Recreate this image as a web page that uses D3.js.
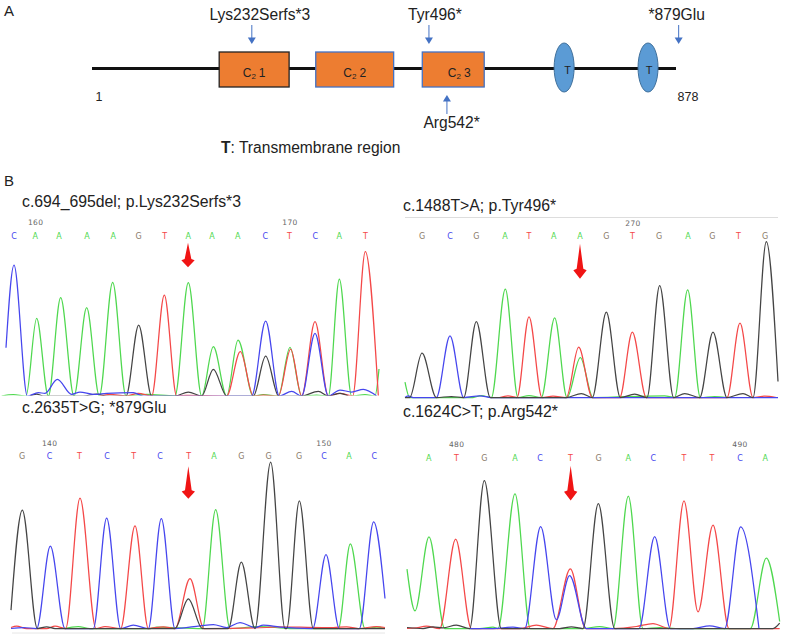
<!DOCTYPE html>
<meta charset="utf-8">
<style>
 body { margin: 0; background: #fff; }
 svg { display: block; }
 text { font-family: "Liberation Sans", Arial, sans-serif; fill: #222; }
 .base { font-family: "DejaVu Sans", sans-serif; font-size: 8px; text-anchor: middle; }
 .pos { font-family: "DejaVu Sans", sans-serif; font-size: 7.5px; text-anchor: middle; fill: #666; letter-spacing: .4px; }
 .trace { fill: none; stroke-width: 1.25px; stroke-linejoin: round; filter: blur(0.3px); }
</style>
<body>
<script src="https://d3js.org/d3.v7.min.js"></script>
<script>

// protein map (panel A), residue numbers
var residues = [1, 878];
var domainNames = ["1", "2", "3"];
var domainStart = [192, 337, 497];
var domainEnd = [297, 454, 590];
var tmSites = [710, 836];
var topMutations = ["Lys232Serfs*3", "Tyr496*", "*879Glu"];
var topMutationSites = [241, 507, 882];
var topLabelSites = [253, 516, 879];
var bottomMutations = ["Arg542*"];
var bottomMutationSites = [534];
var bottomLabelSites = [541];

// chromatograms (panel B): [scan, signal] for each dye
var lysA = [[5,0],[40,4],[78,0],[110,233],[145,0],[182,295],[222,0],[260,265],[298,0],[338,341],[378,0],[440,5],[525,0],[565,340],[605,0],[640,148],[680,0],[714,168],[760,0],[790,4],[835,0],[870,146],[905,0],[950,3],[985,0],[1018,351],[1055,0],[1095,4],[1125,0],[1137,81]];
var lysT = [[300,0],[330,5],[378,0],[415,8],[455,0],[493,303],[530,0],[560,2],[680,0],[721,133],[760,0],[790,3],[835,0],[872,141],[905,0],[945,223],[985,0],[1020,8],[1058,0],[1096,433],[1135,0]];
var lysG = [[90,0],[110,6],[130,0],[250,0],[290,6],[320,0],[378,0],[416,213],[455,0],[525,0],[565,12],[605,0],[640,80],[680,0],[760,0],[797,120],[836,0],[905,0],[955,14],[985,0],[1020,8],[1045,0]];
var lysC = [[18,145],[42,393],[82,0],[115,10],[135,8],[172,50],[215,5],[240,12],[280,5],[320,8],[400,10],[430,0],[640,0],[680,0],[755,0],[797,225],[838,0],[875,14],[905,0],[945,188],[985,0],[1020,18],[1055,12],[1090,20],[1130,0]];
var lysBases = ["C","A","A","A","A","G","T","A","A","A","C","T","C","A","T"];
var lysBaseScans = [42,106,177,261,340,416,494,565,636,713,796,868,946,1018,1096];

var tyrG = [[36,0],[50,0],[87,133],[130,0],[175,3],[212,0],[250,228],[292,0],[520,0],[565,12],[598,0],[640,256],[682,0],[725,10],[762,0],[800,336],[842,0],[875,12],[920,0],[960,196],[1002,0],[1050,12],[1080,0],[1120,468],[1155,48]];
var tyrC = [[36,0],[45,5],[60,0],[130,0],[171,185],[212,0],[260,5],[295,0],[1155,0]];
var tyrA = [[36,46],[50,0],[240,0],[265,6],[295,0],[337,325],[375,0],[408,6],[445,0],[485,239],[522,0],[562,120],[600,0],[815,5],[845,0],[884,323],[922,0],[965,3],[1000,0]];
var tyrT = [[320,0],[345,5],[372,0],[408,242],[447,0],[480,4],[520,0],[557,151],[598,0],[680,0],[718,196],[760,0],[1002,0],[1041,223],[1080,0],[1115,4],[1150,0]];
var tyrBases = ["G","C","G","A","T","A","A","G","T","G","A","G","T","G"];
var tyrBaseScans = [87,171,250,336,408,482,561,640,718,798,885,958,1036,1116];

var stopG = [[33,55],[67,355],[112,0],[140,5],[165,0],[525,0],[565,89],[607,0],[685,0],[724,199],[765,0],[812,499],[855,0],[860,0],[898,383],[940,0],[1155,0]];
var stopC = [[33,0],[70,3],[110,0],[151,247],[195,0],[240,0],[280,0],[320,331],[362,0],[400,10],[445,0],[484,330],[525,0],[600,8],[640,12],[680,3],[720,18],[765,3],[790,10],[840,4],[938,0],[978,222],[1018,0],[1078,0],[1121,320],[1155,90]];
var stopT = [[33,3],[50,7],[80,0],[140,0],[165,7],[197,0],[240,391],[288,0],[315,6],[362,0],[405,308],[445,0],[490,5],[525,0],[570,150],[612,0],[800,3],[830,5],[900,4],[1000,3],[1040,5],[1075,0],[1130,6],[1155,3]];
var stopA = [[190,0],[235,6],[270,0],[450,0],[470,4],[607,0],[647,357],[690,0],[780,6],[870,0],[960,0],[1015,0],[1051,254],[1095,0],[1130,4],[1155,0]];
var stopBases = ["G","C","T","C","T","C","T","A","G","G","G","C","A","C"];
var stopBaseScans = [66,149,238,321,401,480,566,642,724,806,897,972,1047,1123];

var argA = [[42,178],[66,53],[108,275],[155,0],[260,0],[300,4],[315,0],[366,404],[412,0],[570,0],[620,6],[660,0],[706,397],[750,0],[800,3],[860,0],[1072,0],[1120,211],[1160,21]];
var argT = [[42,0],[70,2],[100,7],[140,0],[188,268],[235,0],[380,0],[430,10],[480,0],[532,179],[578,0],[660,0],[730,6],[780,15],[828,0],[873,383],[915,50],[960,310],[1008,0],[1160,0]];
var argG = [[42,3],[90,0],[120,5],[150,2],[190,10],[230,0],[274,444],[325,0],[500,0],[535,5],[570,0],[616,375],[665,0],[1140,0],[1160,16]];
var argC = [[230,0],[300,0],[360,4],[395,0],[443,306],[490,26],[530,159],[580,0],[738,0],[785,276],[832,0],[900,0],[950,8],[995,0],[1043,305],[1098,0]];
var argBases = ["A","T","G","A","C","T","G","A","C","T","T","C","A"];
var argBaseScans = [107,190,274,366,441,532,617,706,781,873,957,1041,1117];

var dyeColor = {A: "#4fd84f", T: "#f44848", G: "#444444", C: "#4646ee"};

var panels = [
  {title: "c.694_695del; p.Lys232Serfs*3", x: 0, base: 396, titleX: 22, titleY: 207, letterY: 238.5, numberY: 225, clip: true,
   traces: {A: lysA, T: lysT, G: lysG, C: lysC}, bases: lysBases, scans: lysBaseScans,
   numbers: ["160", "170"], numberScans: [107, 870], arrow: [564, 460, 386, 411]},
  {title: "c.1488T>A; p.Tyr496*", x: 393, base: 397.5, titleX: 403, titleY: 211, letterY: 239, numberY: 226,
   traces: {A: tyrA, T: tyrT, C: tyrC, G: tyrG}, bases: tyrBases, scans: tyrBaseScans,
   numbers: ["270"], numberScans: [720], arrow: [561, 461, 356, 386]},
  {title: "c.2635T>G; *879Glu", x: 0, base: 628.5, titleX: 22, titleY: 413, letterY: 459, numberY: 445.5,
   traces: {A: stopA, T: stopT, C: stopC, G: stopG}, bases: stopBases, scans: stopBaseScans,
   numbers: ["140", "150"], numberScans: [149, 972], arrow: [565, 487, 389, 415]},
  {title: "c.1624C>T; p.Arg542*", x: 393, base: 628.5, titleX: 403, titleY: 417, letterY: 460.5, numberY: 447,
   traces: {A: argA, T: argT, C: argC, G: argG}, bases: argBases, scans: argBaseScans,
   numbers: ["480", "490"], numberScans: [191, 1041], arrow: [533, 488, 384, 414]}
];

var svg = d3.select("body").append("svg")
    .attr("width", 786)
    .attr("height", 634);

// panel letters
svg.append("text").attr("x", 4).attr("y", 16).style("font-size", "15px").text("A");
svg.append("text").attr("x", 4).attr("y", 186).style("font-size", "15px").text("B");

// ---- panel A
var x = d3.scaleLinear().domain(residues).range([92, 676]);
var lineY = 68.5;

svg.append("line")
    .attr("x1", x(1)).attr("x2", x(878))
    .attr("y1", lineY).attr("y2", lineY)
    .attr("stroke", "#111").attr("stroke-width", 3);

var domains = svg.selectAll(".domain").data(domainNames).enter().append("g");
domains.append("rect")
    .attr("x", function(d, i) { return x(domainStart[i]); })
    .attr("width", function(d, i) { return x(domainEnd[i]) - x(domainStart[i]); })
    .attr("y", 52).attr("height", 35)
    .attr("fill", "#ed7d31")
    .attr("stroke", function(d, i) { return i == 0 ? "#222" : "#4472c4"; })
    .attr("stroke-width", 1.3);
var domainText = domains.append("text")
    .attr("x", function(d, i) { return x((domainStart[i] + domainEnd[i]) / 2) + [0, 0, 6][i]; })
    .attr("y", 76.5)
    .attr("text-anchor", "middle")
    .style("font-size", "12px");
domainText.append("tspan").text("C");
domainText.append("tspan").attr("dy", 2).style("font-size", "8px").text("2");
domainText.append("tspan").attr("dy", -2).attr("dx", 3).text(function(d) { return d; });

svg.selectAll(".tm").data(tmSites).enter().append("ellipse")
    .attr("cx", function(d) { return x(d); })
    .attr("cy", 67.5).attr("rx", 10).attr("ry", 24.5)
    .attr("fill", "#5b9bd5").attr("stroke", "#41719c");
svg.selectAll(".tmlabel").data(tmSites).enter().append("text")
    .attr("x", function(d, i) { return x(d) + [3.5, 1][i]; })
    .attr("y", 73.5)
    .attr("text-anchor", "middle")
    .style("font-size", "11px")
    .text("T");

svg.append("text").attr("x", 99).attr("y", 101).attr("text-anchor", "middle").style("font-size", "12.5px").text(residues[0]);
svg.append("text").attr("x", 688).attr("y", 101).attr("text-anchor", "middle").style("font-size", "12.5px").text(residues[1]);

function blueArrow(xp, y0, y1) {
  var dir = y1 > y0 ? -1 : 1;
  svg.append("line").attr("x1", xp).attr("x2", xp).attr("y1", y0).attr("y2", y1 + dir * 5)
      .attr("stroke", "#4472c4").attr("stroke-width", 1);
  svg.append("path")
      .attr("d", d3.line()([[xp, y1], [xp - 4, y1 + dir * 6.5], [xp + 4, y1 + dir * 6.5]]) + "Z")
      .attr("fill", "#4472c4");
}

topMutations.forEach(function(name, i) {
  blueArrow(x(topMutationSites[i]), 25, 44);
  svg.append("text")
      .attr("x", x(topLabelSites[i])).attr("y", 20)
      .attr("text-anchor", "middle").style("font-size", "15.6px").text(name);
});
bottomMutations.forEach(function(name, i) {
  blueArrow(x(bottomMutationSites[i]), 114, 95);
  svg.append("text")
      .attr("x", x(bottomLabelSites[i])).attr("y", 128)
      .attr("text-anchor", "middle").style("font-size", "15.6px").text(name);
});

var tmNote = svg.append("text").attr("x", 221).attr("y", 153).style("font-size", "15.6px");
tmNote.append("tspan").style("font-weight", "bold").text("T");
tmNote.append("tspan").text(": Transmembrane region");

// ---- panel B
panels.forEach(function(p, k) {
  var sx = d3.scaleLinear().domain([0, 1179]).range([p.x, p.x + 393]);
  var sy = d3.scaleLinear().domain([0, 500]).range([p.base, p.base - 500 / 3]);

  var line = d3.line()
      .x(function(d) { return sx(d[0]); })
      .y(function(d) { return sy(d[1]); })
      .curve(d3.curveMonotoneX);

  svg.append("text").attr("x", p.titleX).attr("y", p.titleY).style("font-size", "15.8px").text(p.title);

  // the first trace has no drawn baseline, so it is cut just above signal 0
  if (p.clip) {
    svg.append("clipPath").attr("id", "clip" + k).append("rect")
        .attr("x", p.x).attr("y", sy(500)).attr("width", 393).attr("height", sy(1.5) - sy(500));
  }
  var g = svg.append("g");
  if (p.clip) g.attr("clip-path", "url(#clip" + k + ")");

  Object.keys(p.traces).forEach(function(dye) {
    g.append("path")
        .datum(p.traces[dye])
        .attr("class", "trace")
        .attr("stroke", dyeColor[dye])
        .attr("d", line);
  });

  svg.selectAll(null).data(p.bases).enter().append("text")
      .attr("class", "base")
      .attr("x", function(d, i) { return sx(p.scans[i]); })
      .attr("y", p.letterY)
      .style("fill", function(d) { return d == "G" ? "#8a7a6a" : dyeColor[d]; })
      .text(function(d) { return d; });

  svg.selectAll(null).data(p.numbers).enter().append("text")
      .attr("class", "pos")
      .attr("x", function(d, i) { return sx(p.numberScans[i]); })
      .attr("y", p.numberY)
      .text(function(d) { return d; });

  // red call-out arrow: [scan, top signal, tip signal, wing signal]
  var a = p.arrow;
  var w = 20;
  svg.append("path")
      .attr("d", d3.line()([
        [sx(a[0]), sy(a[1])],
        [sx(a[0] + 10), sy(a[3])],
        [sx(a[0] + w), sy(a[3] - 4)],
        [sx(a[0]), sy(a[2])],
        [sx(a[0] - w), sy(a[3] - 4)],
        [sx(a[0] - 10), sy(a[3])]
      ]) + "Z")
      .attr("fill", "#f01414");
});

// grey rules around the right-hand trace and under the lower ones
svg.append("line").attr("x1", 405).attr("x2", 778).attr("y1", 217.5).attr("y2", 217.5).attr("stroke", "#ddd");
svg.append("line").attr("x1", 12).attr("x2", 385).attr("y1", 633).attr("y2", 633).attr("stroke", "#e6e6e6");

</script>
</body>
